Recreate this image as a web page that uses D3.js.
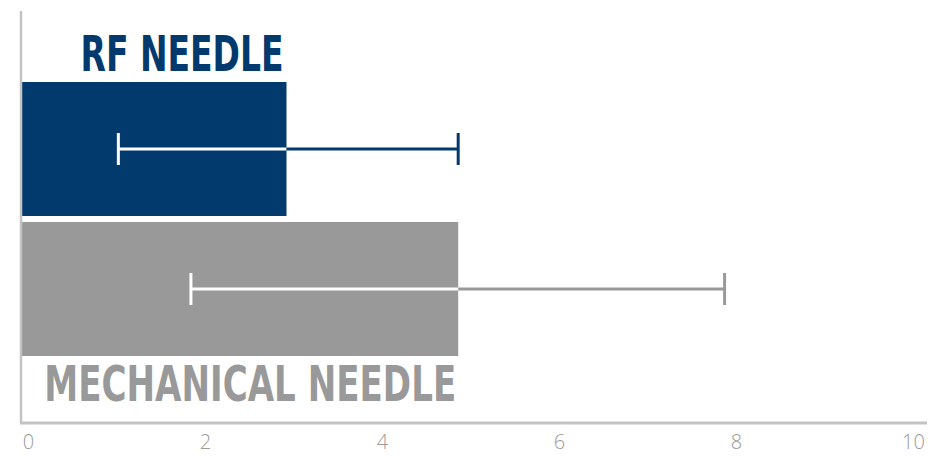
<!DOCTYPE html>
<html>
<head>
<meta charset="utf-8">
<script src="https://cdn.jsdelivr.net/npm/d3@7"></script>
<style>
  html, body { margin: 0; padding: 0; background: #fff; }
  svg { display: block; }
</style>
</head>
<body>
<svg id="chart"></svg>
<script>
const categories = ['RF NEEDLE', 'MECHANICAL NEEDLE'];
const means = [3.0, 4.94];
const errLow = [1.1, 1.92];
const errHigh = [4.94, 7.95];
const barColors = ['#023a6e', '#999999'];
const tickValues = [0, 2, 4, 6, 8, 10];

const width = 928, height = 456;

const svg = d3.select('#chart')
  .attr('width', width)
  .attr('height', height);

const x = d3.scaleLinear().domain([0, 10]).range([21, 906]);
const y = d3.scaleBand()
  .domain(categories)
  .range([82, 356])
  .paddingInner(0.043)
  .paddingOuter(0);

const data = categories.map((c, i) => ({
  name: c,
  value: means[i],
  low: errLow[i],
  high: errHigh[i],
  color: barColors[i]
}));

// Bars
svg.selectAll('.bar')
  .data(data)
  .enter().append('rect')
  .attr('class', 'bar')
  .attr('x', x(0))
  .attr('y', d => y(d.name))
  .attr('width', d => x(d.value) - x(0))
  .attr('height', y.bandwidth())
  .attr('fill', d => d.color);

// Error bars: white inside the bar, bar colour outside
const capH = 32;
const err = svg.selectAll('.err')
  .data(data)
  .enter().append('g')
  .attr('class', 'err')
  .attr('transform', d => `translate(0,${y(d.name) + y.bandwidth() / 2})`);

err.append('line')
  .attr('x1', d => x(d.low))
  .attr('x2', d => x(Math.min(d.high, d.value)))
  .attr('stroke', '#fff')
  .attr('stroke-width', 3);

err.append('line')
  .attr('x1', d => x(Math.min(d.high, d.value)))
  .attr('x2', d => x(d.high))
  .attr('stroke', d => d.color)
  .attr('stroke-width', 3);

err.append('line')
  .attr('x1', d => x(d.low))
  .attr('x2', d => x(d.low))
  .attr('y1', -capH / 2)
  .attr('y2', capH / 2)
  .attr('stroke', d => d.low < d.value ? '#fff' : d.color)
  .attr('stroke-width', 3);

err.append('line')
  .attr('x1', d => x(d.high))
  .attr('x2', d => x(d.high))
  .attr('y1', -capH / 2)
  .attr('y2', capH / 2)
  .attr('stroke', d => d.high <= d.value ? '#fff' : d.color)
  .attr('stroke-width', 3);

// Category labels
const labelFont = '"Liberation Sans Narrow", "DejaVu Sans Condensed", "Roboto", sans-serif';
svg.append('text')
  .attr('x', x(means[0]) - 3)
  .attr('y', y(categories[0]) - 11)
  .attr('text-anchor', 'end')
  .attr('fill', barColors[0])
  .attr('font-family', labelFont)
  .attr('font-weight', 'bold')
  .attr('font-size', '50px')
  .attr('textLength', 203)
  .attr('lengthAdjust', 'spacingAndGlyphs')
  .text(categories[0]);

svg.append('text')
  .attr('x', x(means[1]) - 2)
  .attr('y', y(categories[1]) + y.bandwidth() + 45)
  .attr('text-anchor', 'end')
  .attr('fill', barColors[1])
  .attr('font-family', labelFont)
  .attr('font-weight', 'bold')
  .attr('font-size', '50px')
  .attr('textLength', 412)
  .attr('lengthAdjust', 'spacingAndGlyphs')
  .text(categories[1]);

// Axes lines
svg.append('line')
  .attr('x1', 21).attr('x2', 21)
  .attr('y1', 11).attr('y2', 423)
  .attr('stroke', '#c3c3c3')
  .attr('stroke-width', 2.5);

svg.append('line')
  .attr('x1', 20).attr('x2', 927)
  .attr('y1', 423).attr('y2', 423)
  .attr('stroke', '#c3c3c3')
  .attr('stroke-width', 3);

// Tick labels
const xAxis = d3.axisBottom(x)
  .tickValues(tickValues)
  .tickSize(0)
  .tickPadding(0);

const ax = svg.append('g')
  .attr('transform', 'translate(7,435)')
  .call(xAxis);
ax.select('.domain').remove();
ax.selectAll('text')
  .attr('dy', '0.71em')
  .attr('fill', '#9a9a9a')
  .attr('font-family', '"Open Sans", "Lato", sans-serif')
  .attr('font-weight', 300)
  .attr('font-size', '20px');
</script>
</body>
</html>
